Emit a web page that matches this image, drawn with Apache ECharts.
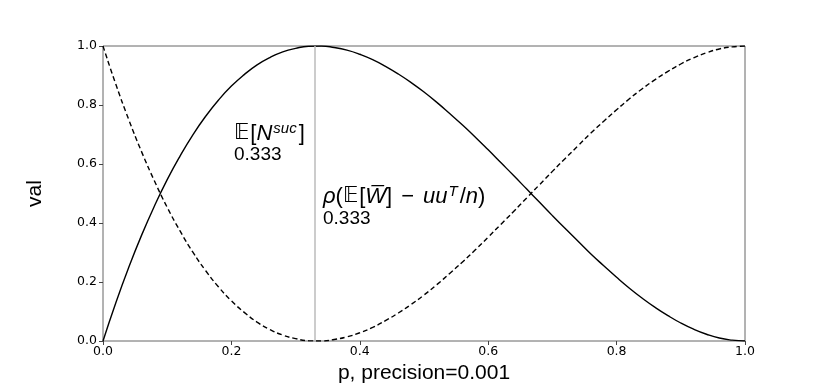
<!DOCTYPE html>
<html>
<head>
    <meta charset="utf-8">
    <title>val vs p</title>
    <script src="https://cdn.jsdelivr.net/npm/echarts@6/dist/echarts.min.js"></script>
</head>
<body style="margin:0;background:#fff">
    <div id="main" style="width:830px;height:383px;"></div>
    <script type="text/javascript">
    // p values, step 0.02
    var pVals = [0, 0.02, 0.04, 0.06, 0.08, 0.10, 0.12, 0.14, 0.16, 0.18, 0.20,
        0.22, 0.24, 0.26, 0.28, 0.30, 0.32, 0.34, 0.36, 0.38, 0.40,
        0.42, 0.44, 0.46, 0.48, 0.50, 0.52, 0.54, 0.56, 0.58, 0.60,
        0.62, 0.64, 0.66, 0.68, 0.70, 0.72, 0.74, 0.76, 0.78, 0.80,
        0.82, 0.84, 0.86, 0.88, 0.90, 0.92, 0.94, 0.96, 0.98, 1.00];
    // solid curve
    var solidVals = [0, 0.130, 0.249, 0.358, 0.457, 0.547, 0.627, 0.699, 0.762, 0.817, 0.864,
        0.903, 0.936, 0.961, 0.980, 0.992, 0.999, 1.000, 0.995, 0.986, 0.972,
        0.954, 0.931, 0.905, 0.876, 0.844, 0.809, 0.771, 0.732, 0.691, 0.648,
        0.604, 0.560, 0.515, 0.470, 0.425, 0.381, 0.338, 0.295, 0.255, 0.216,
        0.179, 0.145, 0.114, 0.086, 0.061, 0.040, 0.023, 0.010, 0.003, 0];
    // dashed curve
    var dashedVals = [1, 0.870, 0.751, 0.642, 0.543, 0.453, 0.373, 0.301, 0.238, 0.183, 0.136,
        0.097, 0.064, 0.039, 0.020, 0.008, 0.001, 0.000, 0.005, 0.014, 0.028,
        0.046, 0.069, 0.095, 0.124, 0.156, 0.191, 0.229, 0.268, 0.309, 0.352,
        0.396, 0.440, 0.485, 0.530, 0.575, 0.619, 0.662, 0.705, 0.745, 0.784,
        0.821, 0.855, 0.886, 0.914, 0.939, 0.960, 0.977, 0.990, 0.997, 1];
    var optP = 0.333;
    var annValue = '0.333';

    function pairs(ys) {
        return pVals.map(function (p, i) { return [p, ys[i]]; });
    }

    var tickFont = 'DejaVu Sans';
    var textFont = 'Liberation Sans';
    var mf = 22;   // math line size
    var mlh = 26;
    var rich = {
        n: { fontFamily: textFont, fontSize: mf, fill: '#000', lineHeight: mlh },
        i: { fontFamily: textFont, fontSize: mf, fontStyle: 'italic', fill: '#000', lineHeight: mlh },
        bb: { fontFamily: 'DejaVu Sans', fontSize: mf - 1, fill: '#000', lineHeight: mlh, padding: [0, 1, 0, 0] },
        op: { fontFamily: textFont, fontSize: mf, fill: '#000', lineHeight: mlh, padding: [0, 9, 0, 9] },
        s: { fontFamily: textFont, fontSize: 15, fontStyle: 'italic', fill: '#000', padding: [0, 2, 10, 1], lineHeight: mlh }
    };
    var valStyle = { fontFamily: textFont, fontSize: 19, fill: '#000' };

    var myChart = echarts.init(document.getElementById('main'));

    var option = {
        animation: false,
        grid: { left: 103, right: 85, top: 46, bottom: 42, outerBoundsMode: 'none', containLabel: false,
            show: true, borderColor: '#666', borderWidth: 1 },
        xAxis: {
            type: 'value', min: 0, max: 1, interval: 0.2,
            name: 'p, precision=0.001', nameLocation: 'middle', nameGap: 22,
            nameTextStyle: { fontFamily: textFont, fontSize: 21, color: '#000', verticalAlign: 'top' },
            axisLine: { show: false },
            axisTick: { show: true, length: 4, lineStyle: { color: '#444' } },
            splitLine: { show: false },
            axisLabel: { fontFamily: tickFont, fontSize: 12.5, color: '#000', margin: 4,
                formatter: function (v) { return v.toFixed(1); } }
        },
        yAxis: {
            type: 'value', min: 0, max: 1, interval: 0.2,
            name: 'val', nameLocation: 'middle', nameGap: 57,
            nameTextStyle: { fontFamily: textFont, fontSize: 21, color: '#000' },
            axisLine: { show: false },
            axisTick: { show: true, length: 4, lineStyle: { color: '#444' } },
            splitLine: { show: false },
            axisLabel: { fontFamily: tickFont, fontSize: 12.5, color: '#000', margin: 6,
                formatter: function (v) { return v.toFixed(1); } }
        },
        series: [{
            type: 'line', data: pairs(solidVals), smooth: true, symbol: 'none',
            lineStyle: { color: '#000', width: 1.4 },
            markLine: {
                silent: true, symbol: 'none', label: { show: false },
                lineStyle: { color: '#bbb', width: 1.5, type: 'solid' },
                data: [{ xAxis: optP }]
            }
        }, {
            type: 'line', data: pairs(dashedVals), smooth: true, symbol: 'none',
            lineStyle: { color: '#000', width: 1.4, type: [5, 3] }
        }],
        graphic: [{
            type: 'text', left: 234, top: 121,
            style: { text: '{bb|𝔼}{n|[}{i|N}{s|suc}{n|]}', rich: rich }
        }, {
            type: 'text', left: 234, top: 145,
            style: Object.assign({ text: annValue }, valStyle)
        }, {
            type: 'text', left: 323, top: 184,
            style: { text: '{i|ρ}{n|(}{bb|𝔼}{n|[}{i|W\u0305}{n|]}{op|−}{i|uu}{s|T}{n|/}{i|n}{n|)}', rich: rich }
        }, {
            type: 'text', left: 323, top: 209,
            style: Object.assign({ text: annValue }, valStyle)
        }]
    };

    myChart.setOption(option);
    </script>
</body>
</html>
